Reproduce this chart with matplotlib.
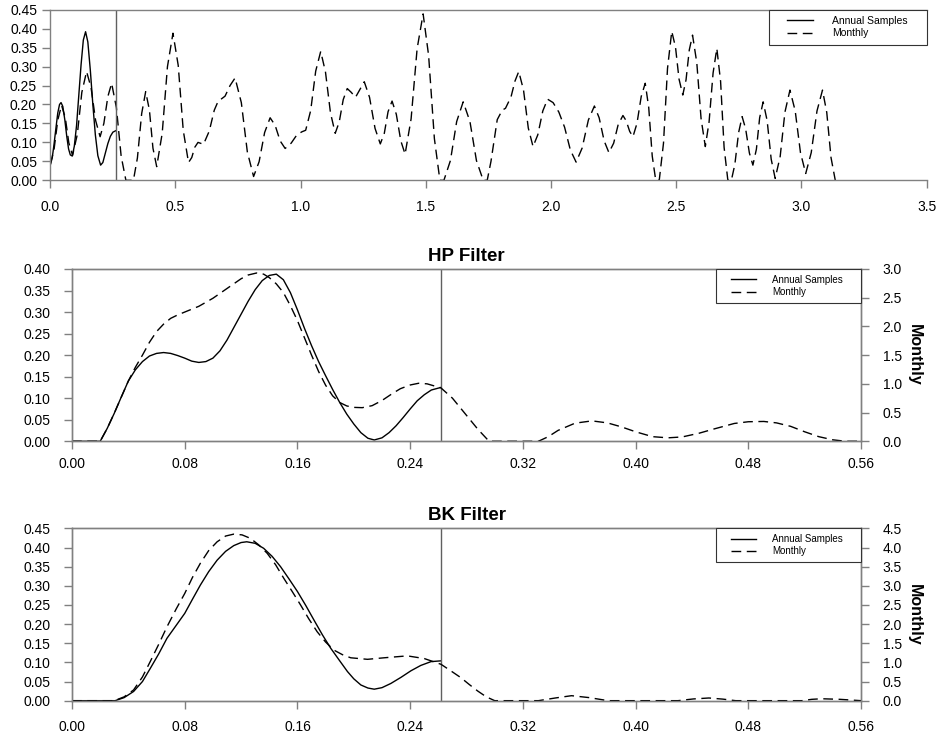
import matplotlib
matplotlib.use("Agg")
import matplotlib.pyplot as plt
from matplotlib.lines import Line2D
from matplotlib.legend_handler import HandlerLine2D

plt.rcParams['font.family'] = ['Liberation Sans', 'DejaVu Sans']

NYQ = 0.2618  # annual Nyquist (pi/12)

# ---- top panel: periodogram, frequency 0..pi ----
top_freq_annual = [0.000, 0.008, 0.015, 0.023, 0.030, 0.037, 0.043, 0.050, 0.058, 0.066,
                   0.073, 0.080, 0.088, 0.096, 0.105, 0.114, 0.123, 0.132, 0.141, 0.150,
                   0.160, 0.170, 0.180, 0.190, 0.201, 0.210, 0.220, 0.230, 0.240, 0.250,
                   0.262]
top_annual = [0.040, 0.060, 0.095, 0.140, 0.178, 0.200, 0.205, 0.195, 0.160, 0.115,
              0.083, 0.067, 0.064, 0.090, 0.145, 0.225, 0.305, 0.370, 0.392, 0.365,
              0.290, 0.200, 0.120, 0.065, 0.040, 0.047, 0.072, 0.097, 0.116, 0.127,
              0.131]

top_freq_monthly = [
    0.000, 0.015, 0.030, 0.045, 0.060, 0.074, 0.089, 0.108, 0.126, 0.145,
    0.163, 0.181, 0.199, 0.214, 0.230, 0.245, 0.264, 0.283, 0.302, 0.332,
    0.348, 0.365, 0.381, 0.396, 0.410, 0.425, 0.447, 0.468, 0.490, 0.511,
    0.531, 0.552, 0.565, 0.577, 0.590, 0.612, 0.635, 0.655, 0.670, 0.698,
    0.718, 0.738, 0.763, 0.787, 0.812, 0.834, 0.856, 0.878, 0.898, 0.918,
    0.938, 0.962, 0.985, 1.005, 1.020, 1.040, 1.060, 1.080, 1.099, 1.119,
    1.138, 1.154, 1.170, 1.186, 1.202, 1.219, 1.237, 1.254, 1.275, 1.297,
    1.318, 1.334, 1.349, 1.365, 1.382, 1.400, 1.417, 1.441, 1.465, 1.489,
    1.511, 1.534, 1.556, 1.572, 1.598, 1.623, 1.649, 1.676, 1.702, 1.729,
    1.745, 1.760, 1.785, 1.805, 1.818, 1.840, 1.856, 1.871, 1.890, 1.909,
    1.928, 1.947, 1.967, 1.986, 2.008, 2.031, 2.054, 2.077, 2.100, 2.124,
    2.149, 2.173, 2.192, 2.212, 2.231, 2.250, 2.268, 2.287, 2.300, 2.314,
    2.327, 2.343, 2.360, 2.376, 2.390, 2.404, 2.418, 2.432, 2.449, 2.465,
    2.482, 2.497, 2.511, 2.526, 2.539, 2.552, 2.565, 2.582, 2.599, 2.616,
    2.631, 2.647, 2.662, 2.677, 2.691, 2.706, 2.720, 2.734, 2.749, 2.763,
    2.777, 2.792, 2.806, 2.820, 2.833, 2.847, 2.863, 2.879, 2.895, 2.915,
    2.934, 2.954, 2.975, 2.996, 3.017, 3.039, 3.062, 3.084, 3.101, 3.118,
    3.135]
top_monthly = [
    0.042, 0.081, 0.159, 0.198, 0.165, 0.099, 0.066, 0.121, 0.232, 0.287,
    0.244, 0.158, 0.115, 0.150, 0.221, 0.256, 0.192, 0.064, 0.000, 0.000,
    0.059, 0.176, 0.234, 0.185, 0.085, 0.036, 0.124, 0.300, 0.388, 0.303,
    0.132, 0.047, 0.060, 0.087, 0.100, 0.095, 0.130, 0.185, 0.208, 0.222,
    0.250, 0.270, 0.205, 0.075, 0.010, 0.049, 0.126, 0.165, 0.145, 0.104,
    0.084, 0.098, 0.120, 0.128, 0.132, 0.184, 0.288, 0.340, 0.286, 0.178,
    0.124, 0.154, 0.213, 0.242, 0.232, 0.219, 0.240, 0.260, 0.219, 0.137,
    0.096, 0.124, 0.181, 0.209, 0.174, 0.104, 0.069, 0.162, 0.347, 0.439,
    0.329, 0.110, 0.000, 0.000, 0.052, 0.155, 0.207, 0.155, 0.052, 0.000,
    0.000, 0.050, 0.160, 0.185, 0.190, 0.220, 0.262, 0.287, 0.238, 0.138,
    0.089, 0.120, 0.183, 0.214, 0.205, 0.180, 0.140, 0.080, 0.048, 0.085,
    0.159, 0.196, 0.165, 0.104, 0.073, 0.098, 0.147, 0.171, 0.157, 0.129,
    0.115, 0.150, 0.221, 0.256, 0.192, 0.064, 0.000, 0.000, 0.098, 0.295,
    0.393, 0.351, 0.267, 0.225, 0.265, 0.344, 0.383, 0.310, 0.163, 0.089,
    0.154, 0.283, 0.348, 0.261, 0.087, 0.000, 0.000, 0.042, 0.126, 0.168,
    0.136, 0.072, 0.040, 0.082, 0.165, 0.207, 0.157, 0.056, 0.005, 0.063,
    0.180, 0.238, 0.183, 0.073, 0.018, 0.073, 0.183, 0.238, 0.179, 0.060,
    0.000]

# ---- HP filter ----
hp_freq_annual = [0.000, 0.020, 0.025, 0.030, 0.035, 0.040, 0.045, 0.050, 0.055, 0.060,
                  0.065, 0.070, 0.075, 0.080, 0.085, 0.090, 0.095, 0.100, 0.105, 0.110,
                  0.115, 0.120, 0.125, 0.130, 0.135, 0.140, 0.145, 0.150, 0.155, 0.160,
                  0.165, 0.170, 0.175, 0.180, 0.185, 0.190, 0.195, 0.200, 0.205, 0.210,
                  0.2145, 0.220, 0.225, 0.230, 0.235, 0.240, 0.245, 0.250, 0.255, 0.2618]
hp_annual = [0.000, 0.000, 0.030, 0.065, 0.103, 0.140, 0.166, 0.185, 0.198, 0.204,
             0.206, 0.204, 0.199, 0.193, 0.186, 0.183, 0.185, 0.193, 0.210, 0.235,
             0.265, 0.295, 0.325, 0.352, 0.373, 0.385, 0.388, 0.375, 0.345, 0.305,
             0.262, 0.222, 0.185, 0.152, 0.120, 0.090, 0.063, 0.040, 0.020, 0.007,
             0.003, 0.008, 0.020, 0.036, 0.055, 0.075, 0.094, 0.108, 0.119, 0.125]

hp_freq_monthly = [0.000, 0.020, 0.025, 0.030, 0.035, 0.040, 0.045, 0.050, 0.055, 0.060,
                   0.065, 0.070, 0.075, 0.080, 0.090, 0.100, 0.110, 0.120, 0.125, 0.131,
                   0.136, 0.140, 0.145, 0.150, 0.155, 0.160, 0.165, 0.170, 0.175, 0.180,
                   0.185, 0.190, 0.195, 0.200, 0.206, 0.213, 0.220, 0.227, 0.233, 0.240,
                   0.246, 0.252, 0.2618, 0.270, 0.280, 0.288, 0.296, 0.331, 0.338, 0.345,
                   0.357, 0.369, 0.380, 0.390, 0.400, 0.412, 0.423, 0.433, 0.445, 0.455,
                   0.470, 0.480, 0.491, 0.500, 0.510, 0.520, 0.530, 0.540, 0.549, 0.560]
hp_monthly = [0.00, 0.00, 0.225, 0.49, 0.77, 1.05, 1.29, 1.50, 1.725, 1.91,
              2.04, 2.14, 2.20, 2.25, 2.35, 2.49, 2.66, 2.83, 2.895, 2.93,
              2.91, 2.85, 2.74, 2.59, 2.36, 2.10, 1.80, 1.50, 1.215, 0.975,
              0.79, 0.675, 0.615, 0.59, 0.585, 0.62, 0.71, 0.825, 0.915, 0.98,
              1.01, 1.00, 0.93, 0.75, 0.45, 0.21, 0.00, 0.00, 0.08, 0.19,
              0.315, 0.355, 0.32, 0.25, 0.165, 0.08, 0.06, 0.075, 0.14, 0.21,
              0.31, 0.34, 0.345, 0.32, 0.26, 0.165, 0.08, 0.025, 0.00, 0.00]

# ---- BK filter ----
bk_freq_annual = [0.000, 0.0306, 0.037, 0.0437, 0.050, 0.0555, 0.0615, 0.0674, 0.074, 0.080,
                  0.0855, 0.0911, 0.097, 0.103, 0.109, 0.1148, 0.120, 0.124, 0.130, 0.136,
                  0.142, 0.148, 0.154, 0.160, 0.166, 0.1718, 0.1777, 0.1836, 0.190, 0.1955,
                  0.200, 0.205, 0.210, 0.2145, 0.220, 0.2263, 0.2335, 0.2405, 0.2475, 0.2548,
                  0.2618]
bk_annual = [0.000, 0.000, 0.008, 0.024, 0.050, 0.084, 0.122, 0.163, 0.197, 0.228,
             0.265, 0.302, 0.337, 0.367, 0.390, 0.405, 0.413, 0.415, 0.411, 0.398,
             0.377, 0.350, 0.318, 0.285, 0.248, 0.210, 0.172, 0.137, 0.104, 0.076,
             0.057, 0.041, 0.033, 0.030, 0.034, 0.045, 0.061, 0.078, 0.092, 0.102,
             0.104]

bk_freq_monthly = [0.000, 0.030, 0.037, 0.0437, 0.050, 0.0555, 0.0615, 0.0674, 0.074, 0.080,
                   0.0855, 0.0911, 0.097, 0.103, 0.109, 0.1148, 0.1207, 0.1266, 0.1325, 0.1385,
                   0.1445, 0.1504, 0.1563, 0.1622, 0.168, 0.174, 0.180, 0.1859, 0.192, 0.1978,
                   0.2097, 0.2215, 0.238, 0.250, 0.2619, 0.270, 0.276, 0.282, 0.288, 0.294,
                   0.300, 0.331, 0.343, 0.3545, 0.367, 0.3805, 0.430, 0.441, 0.452, 0.462,
                   0.471, 0.518, 0.525, 0.532, 0.545, 0.560]
bk_monthly = [0.00, 0.00, 0.10, 0.28, 0.62, 1.02, 1.47, 1.93, 2.40, 2.80,
              3.22, 3.59, 3.92, 4.15, 4.30, 4.35, 4.33, 4.24, 4.07, 3.85,
              3.55, 3.19, 2.85, 2.50, 2.14, 1.80, 1.53, 1.32, 1.20, 1.12,
              1.08, 1.12, 1.17, 1.10, 0.95, 0.75, 0.60, 0.42, 0.25, 0.10,
              0.00, 0.00, 0.07, 0.13, 0.08, 0.00, 0.00, 0.045, 0.07, 0.04,
              0.00, 0.00, 0.035, 0.05, 0.035, 0.00]

AXC = '#808080'
DASH = (7, 4)


def style_axis(ax, xpad, ypad):
    for s in ax.spines.values():
        s.set_color(AXC)
        s.set_linewidth(1.0)
    ax.tick_params(direction='out', length=6, width=1.0, color=AXC,
                   labelsize=10, labelcolor='black')
    ax.tick_params(axis='x', pad=xpad)
    ax.tick_params(axis='y', pad=ypad)


def add_legend(ax, x0, fs, xpad, textpad):
    handles = [Line2D([], [], color='black', lw=1.0),
               Line2D([], [], color='black', lw=1.0, dashes=DASH)]
    leg = ax.legend(handles, ['Annual Samples', 'Monthly'],
                    loc='upper right', bbox_to_anchor=(x0, 0, 1 - x0, 1),
                    mode='expand', borderaxespad=0, fontsize=fs,
                    handlelength=2.57 + xpad, handletextpad=textpad,
                    borderpad=0.6, labelspacing=0.22, fancybox=False,
                    framealpha=1, edgecolor='#333333',
                    handler_map={Line2D: HandlerLine2D(xpad=xpad)})
    leg.get_frame().set_linewidth(0.8)
    return leg


fig = plt.figure(figsize=(9.45, 7.42), dpi=100)

# top panel
ax0 = fig.add_axes([0.0532, 0.757, 0.9274, 0.2299])
ax0.plot(top_freq_annual, top_annual, color='black', lw=1.0)
ax0.plot(top_freq_monthly, top_monthly, color='black', lw=1.0, dashes=DASH)
ax0.axvline(NYQ, color='#606060', lw=1.0)
ax0.set_xlim(0, 3.5)
ax0.set_ylim(0, 0.45)
ax0.set_xticks([0.5 * i for i in range(8)])
ax0.set_xticklabels(['%.1f' % (0.5 * i) for i in range(8)])
ax0.set_yticks([0.05 * i for i in range(10)])
ax0.set_yticklabels(['%.2f' % (0.05 * i) for i in range(10)])
ax0.spines['right'].set_visible(False)
style_axis(ax0, 8.5, 3.5)
add_legend(ax0, 0.8204, 7.5, 1.07, 1.77)

# HP and BK panels
panels = [
    (0.4053, 'HP Filter', hp_freq_annual, hp_annual, hp_freq_monthly, hp_monthly, 0.40, 3.0, 5.0),
    (0.0557, 'BK Filter', bk_freq_annual, bk_annual, bk_freq_monthly, bk_monthly, 0.45, 4.5, 7.8),
]
xt = [0.08 * i for i in range(8)]
for bottom, title, fa, ya, fm, ym, ymax, ymax2, xpad in panels:
    ax = fig.add_axes([0.0762, bottom, 0.835, 0.2322])
    ax.plot(fa, ya, color='black', lw=1.0)
    ax.axvline(NYQ, color='#606060', lw=1.0)
    ax.set_xlim(0, 0.56)
    ax.set_ylim(0, ymax)
    ax.set_xticks(xt)
    ax.set_xticklabels(['%.2f' % v for v in xt])
    n = int(round(ymax / 0.05)) + 1
    ax.set_yticks([0.05 * i for i in range(n)])
    ax.set_yticklabels(['%.2f' % (0.05 * i) for i in range(n)])
    style_axis(ax, xpad, 9.5)
    ax.set_title(title, fontsize=13.5, fontweight='bold', pad=6)

    ax2 = ax.twinx()
    ax2.plot(fm, ym, color='black', lw=1.0, dashes=DASH)
    ax2.set_xlim(0, 0.56)
    ax2.set_ylim(0, ymax2)
    n2 = int(round(ymax2 / 0.5)) + 1
    ax2.set_yticks([0.5 * i for i in range(n2)])
    ax2.set_yticklabels(['%.1f' % (0.5 * i) for i in range(n2)])
    style_axis(ax2, xpad, 9.5)
    ax2.set_ylabel('Monthly', fontsize=11.5, fontweight='bold', rotation=270, labelpad=14)
    add_legend(ax2, 0.816, 7, 1.0, 1.6)

fig.savefig('out.png', dpi=100)
